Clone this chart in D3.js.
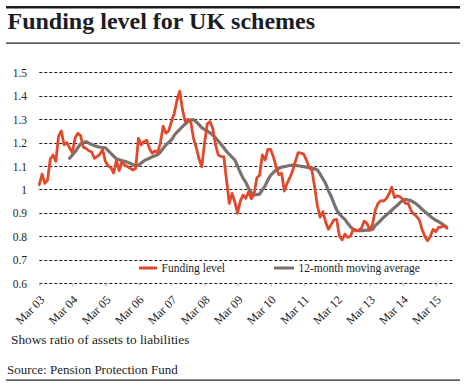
<!DOCTYPE html>
<html>
<head>
<meta charset="utf-8">
<script src="https://cdn.jsdelivr.net/npm/d3@7"></script>
<style>
  html, body { margin: 0; padding: 0; background: #fff; }
  svg { display: block; }
  text { font-family: "Liberation Serif", "Times New Roman", serif; fill: #1c1c24; }
</style>
</head>
<body>
<script>
// ---- Data (monthly, starting Mar 2003) ----
const startLabel = "Mar 2003";
const xTickLabels = ["Mar 03","Mar 04","Mar 05","Mar 06","Mar 07","Mar 08","Mar 09","Mar 10","Mar 11","Mar 12","Mar 13","Mar 14","Mar 15"];
const yTickValues = [0.6,0.7,0.8,0.9,1.0,1.1,1.2,1.3,1.4,1.5];
const yTickLabels = ["0.6","0.7","0.8","0.9","1","1.1","1.2","1.3","1.4","1.5"];

// Funding level, month index 0 = Mar 2003 ... 148 = Jul 2015
const fundingLevel = [
  1.02,1.065,1.026,1.04,1.13,1.147,1.12,1.228,1.25,1.19,1.20,1.177,
  1.157,1.22,1.24,1.23,1.18,1.175,1.165,1.16,1.133,1.14,1.15,1.17,
  1.12,1.10,1.094,1.07,1.123,1.08,1.118,1.104,1.098,1.09,1.083,1.09,
  1.218,1.19,1.205,1.21,1.175,1.154,1.165,1.157,1.20,1.27,1.24,1.25,
  1.29,1.325,1.38,1.42,1.34,1.29,1.30,1.29,1.218,1.18,1.13,1.097,
  1.197,1.28,1.29,1.26,1.19,1.147,1.14,1.14,1.04,0.94,0.983,0.947,
  0.898,0.95,0.976,0.962,0.99,0.96,0.98,1.05,1.06,1.147,1.126,1.171,
  1.171,1.14,1.097,1.062,1.069,0.993,1.026,1.05,1.08,1.12,1.157,1.155,
  1.151,1.126,1.095,1.083,1.01,0.93,0.881,0.905,0.86,0.83,0.85,0.87,
  0.872,0.80,0.784,0.809,0.795,0.80,0.829,0.823,0.826,0.835,0.865,0.855,
  0.826,0.85,0.91,0.94,0.952,0.95,0.96,0.98,1.009,0.965,0.972,0.969,
  0.958,0.94,0.94,0.91,0.894,0.885,0.87,0.83,0.80,0.78,0.80,0.829,
  0.819,0.838,0.84,0.844,0.834
];

// 12-month moving average, first value at month index 11 (Feb 2004)
const movingAvgStart = 11;
const movingAverage = [
  1.133,
  1.147,1.161,1.178,1.194,1.200,1.204,1.198,1.192,1.187,1.183,1.180,1.179,
  1.178,1.166,1.154,1.142,1.131,1.127,1.123,1.120,1.116,1.112,1.106,1.100,
  1.104,1.112,1.122,1.128,1.133,1.139,1.144,1.149,1.160,1.176,1.190,1.201,
  1.212,1.230,1.245,1.256,1.268,1.280,1.289,1.297,1.298,1.289,1.277,1.264,
  1.256,1.249,1.242,1.232,1.220,1.207,1.193,1.178,1.162,1.150,1.138,1.126,
  1.100,1.072,1.048,1.030,1.005,0.985,0.977,0.978,0.980,0.998,1.015,1.040,
  1.060,1.072,1.083,1.090,1.095,1.097,1.100,1.102,1.104,1.103,1.101,1.099,
  1.097,1.095,1.093,1.090,1.088,1.083,1.065,1.045,1.025,0.995,0.970,0.940,
  0.912,0.895,0.882,0.872,0.855,0.840,0.830,0.826,0.824,0.824,0.825,0.826,
  0.827,0.829,0.845,0.856,0.868,0.880,0.890,0.900,0.911,0.922,0.932,0.944,
  0.952,0.958,0.955,0.952,0.945,0.937,0.927,0.915,0.905,0.895,0.885,0.876,
  0.868,0.862,0.855,0.847,0.838
];

const seriesNames = ["Funding level", "12-month moving average"];
const seriesColors = ["#e2492b", "#7b716d"];
const titleText = "Funding level for UK schemes";
const noteText = "Shows ratio of assets to liabilities";
const sourceText = "Source: Pension Protection Fund";

// ---- Drawing ----
const W = 469, H = 388;
const svg = d3.select("body").append("svg").attr("width", W).attr("height", H);

const x = d3.scaleLinear().domain([0, 144]).range([39.3, 435.8]);
const y = d3.scaleLinear().domain([0.6, 1.5]).range([283, 72.4]);
const gridRight = 453;

// Rules
svg.append("rect").attr("x", 6).attr("y", 6).attr("width", 454).attr("height", 2.5).attr("fill", "#1c1c1c");
svg.append("rect").attr("x", 6).attr("y", 42.5).attr("width", 454).attr("height", 1.2).attr("fill", "#1c1c1c");
svg.append("rect").attr("x", 6).attr("y", 379.5).attr("width", 454).attr("height", 1.2).attr("fill", "#1c1c1c");

// Title
svg.append("text").attr("x", 7.5).attr("y", 28.5)
  .attr("font-size", 24).attr("font-weight", "bold").text(titleText);

// Gridlines
const grid = svg.append("g");
grid.selectAll("line").data(yTickValues).join("line")
  .attr("x1", x(0)).attr("x2", gridRight)
  .attr("y1", d => Math.round(y(d)) + 0.5).attr("y2", d => Math.round(y(d)) + 0.5)
  .attr("stroke", "#1c1c1c").attr("stroke-width", 1).attr("stroke-dasharray", "3,2");

// Y axis labels
const yAxis = d3.axisLeft(y).tickValues(yTickValues).tickSize(0).tickPadding(0)
  .tickFormat((d, i) => yTickLabels[i]);
const gy = svg.append("g").attr("transform", "translate(27,0)").call(yAxis);
gy.select(".domain").remove();
gy.selectAll("text").attr("font-size", 11.5).attr("font-family", "Liberation Serif, serif").attr("fill", "#1c1c24").attr("dy", "0.35em");

// X axis
const xTicks = xTickLabels.map((_, i) => i * 12);
const xAxis = d3.axisBottom(x).tickValues(xTicks).tickSize(3).tickPadding(0)
  .tickFormat((d, i) => xTickLabels[i]);
const gx = svg.append("g").attr("transform", "translate(0,283.5)").call(xAxis);
gx.select(".domain").remove();
gx.selectAll(".tick line").attr("stroke", "#bbb");
gx.selectAll("text")
  .attr("font-size", 12).attr("font-family", "Liberation Serif, serif").attr("fill", "#1c1c24")
  .attr("text-anchor", "end")
  .attr("transform", "translate(5.5,17) rotate(-45)")
  .attr("y", 0).attr("dy", 0).attr("x", 0);

// Lines
const line = d3.line().x(d => x(d.i)).y(d => y(d.v)).curve(d3.curveLinear);
const fundData = fundingLevel.map((v, i) => ({ i, v }));
const maData = movingAverage.map((v, k) => ({ i: k + movingAvgStart, v }));

svg.append("path").datum(maData).attr("d", line)
  .attr("fill", "none").attr("stroke", seriesColors[1]).attr("stroke-width", 3.2)
  .attr("stroke-linejoin", "round").attr("stroke-linecap", "round");
svg.append("path").datum(fundData).attr("d", line)
  .attr("fill", "none").attr("stroke", seriesColors[0]).attr("stroke-width", 2.8)
  .attr("stroke-linejoin", "round").attr("stroke-linecap", "round");

// Legend
const legendItems = [
  { name: seriesNames[0], color: seriesColors[0], x: 139, w: 18 },
  { name: seriesNames[1], color: seriesColors[1], x: 274, w: 20 }
];
const lg = svg.append("g");
legendItems.forEach(it => {
  lg.append("rect").attr("x", it.x).attr("y", 266.5).attr("width", it.w).attr("height", 3).attr("fill", it.color);
  lg.append("text").attr("x", it.x + it.w + 4.5).attr("y", 271.5).attr("font-size", 11.5).text(it.name);
});

// Footer
svg.append("text").attr("x", 11).attr("y", 343.5).attr("font-size", 13.3).text(noteText);
svg.append("text").attr("x", 7).attr("y", 373.5).attr("font-size", 13).text(sourceText);
</script>
</body>
</html>
